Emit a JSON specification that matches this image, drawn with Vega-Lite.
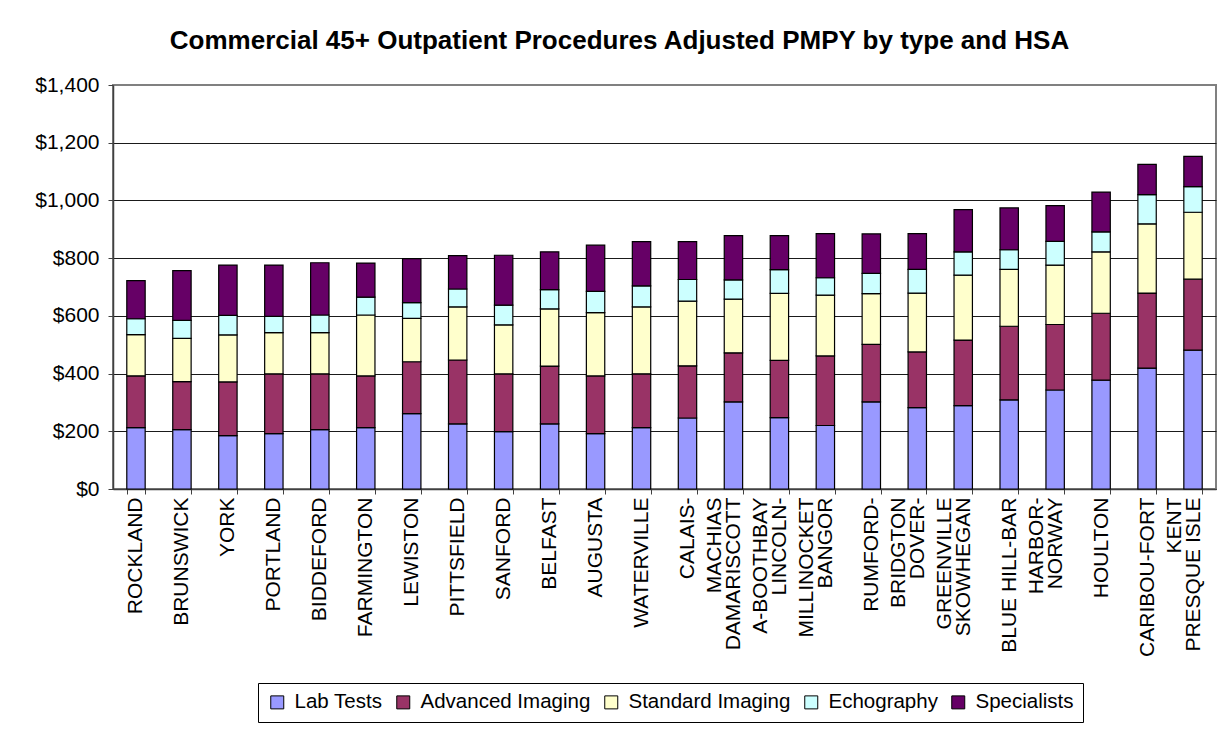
{
  "$schema": "https://vega.github.io/schema/vega-lite/v6.json",
  "autosize": {"type": "none"},
  "width": 1103,
  "height": 404,
  "padding": {"left": 113, "top": 85, "right": 12, "bottom": 240},
  "background": "white",
  "title": {
    "text": "Commercial 45+ Outpatient Procedures Adjusted PMPY by type and HSA",
    "font": "Liberation Sans",
    "fontSize": 26,
    "fontWeight": "bold",
    "color": "black",
    "anchor": "middle",
    "dx": -45,
    "offset": 20
  },
  "data": {
    "values": [
      {"hsa": "ROCKLAND", "Lab Tests": 213, "Advanced Imaging": 179, "Standard Imaging": 143, "Echography": 55, "Specialists": 132},
      {"hsa": "BRUNSWICK", "Lab Tests": 206, "Advanced Imaging": 166, "Standard Imaging": 150, "Echography": 62, "Specialists": 173},
      {"hsa": "YORK", "Lab Tests": 185, "Advanced Imaging": 186, "Standard Imaging": 163, "Echography": 68, "Specialists": 174},
      {"hsa": "PORTLAND", "Lab Tests": 192, "Advanced Imaging": 207, "Standard Imaging": 143, "Echography": 56, "Specialists": 178},
      {"hsa": "BIDDEFORD", "Lab Tests": 206, "Advanced Imaging": 193, "Standard Imaging": 143, "Echography": 61, "Specialists": 181},
      {"hsa": "FARMINGTON", "Lab Tests": 213, "Advanced Imaging": 179, "Standard Imaging": 211, "Echography": 62, "Specialists": 118},
      {"hsa": "LEWISTON", "Lab Tests": 261, "Advanced Imaging": 180, "Standard Imaging": 150, "Echography": 55, "Specialists": 152},
      {"hsa": "PITTSFIELD", "Lab Tests": 226, "Advanced Imaging": 221, "Standard Imaging": 184, "Echography": 62, "Specialists": 116},
      {"hsa": "SANFORD", "Lab Tests": 199, "Advanced Imaging": 200, "Standard Imaging": 170, "Echography": 68, "Specialists": 173},
      {"hsa": "BELFAST", "Lab Tests": 226, "Advanced Imaging": 200, "Standard Imaging": 198, "Echography": 67, "Specialists": 131},
      {"hsa": "AUGUSTA", "Lab Tests": 192, "Advanced Imaging": 200, "Standard Imaging": 219, "Echography": 74, "Specialists": 160},
      {"hsa": "WATERVILLE", "Lab Tests": 213, "Advanced Imaging": 186, "Standard Imaging": 232, "Echography": 73, "Specialists": 153},
      {"hsa": "CALAIS-\nMACHIAS", "Lab Tests": 246, "Advanced Imaging": 181, "Standard Imaging": 224, "Echography": 75, "Specialists": 131},
      {"hsa": "DAMARISCOTT\nA-BOOTHBAY", "Lab Tests": 302, "Advanced Imaging": 170, "Standard Imaging": 186, "Echography": 67, "Specialists": 153},
      {"hsa": "LINCOLN-\nMILLINOCKET", "Lab Tests": 247, "Advanced Imaging": 199, "Standard Imaging": 232, "Echography": 82, "Specialists": 118},
      {"hsa": "BANGOR", "Lab Tests": 220, "Advanced Imaging": 241, "Standard Imaging": 211, "Echography": 60, "Specialists": 153},
      {"hsa": "RUMFORD-\nBRIDGTON", "Lab Tests": 302, "Advanced Imaging": 199, "Standard Imaging": 176, "Echography": 70, "Specialists": 137},
      {"hsa": "DOVER-\nGREENVILLE", "Lab Tests": 282, "Advanced Imaging": 193, "Standard Imaging": 204, "Echography": 82, "Specialists": 124},
      {"hsa": "SKOWHEGAN", "Lab Tests": 289, "Advanced Imaging": 227, "Standard Imaging": 225, "Echography": 81, "Specialists": 146},
      {"hsa": "BLUE HILL-BAR\nHARBOR-", "Lab Tests": 309, "Advanced Imaging": 255, "Standard Imaging": 197, "Echography": 68, "Specialists": 145},
      {"hsa": "NORWAY", "Lab Tests": 343, "Advanced Imaging": 227, "Standard Imaging": 206, "Echography": 82, "Specialists": 124},
      {"hsa": "HOULTON", "Lab Tests": 377, "Advanced Imaging": 232, "Standard Imaging": 213, "Echography": 69, "Specialists": 138},
      {"hsa": "CARIBOU-FORT\nKENT", "Lab Tests": 419, "Advanced Imaging": 260, "Standard Imaging": 240, "Echography": 101, "Specialists": 105},
      {"hsa": "PRESQUE ISLE", "Lab Tests": 481, "Advanced Imaging": 246, "Standard Imaging": 232, "Echography": 89, "Specialists": 105}
    ]
  },
  "transform": [
    {"fold": ["Lab Tests", "Advanced Imaging", "Standard Imaging", "Echography", "Specialists"], "as": ["type", "value"]},
    {"calculate": "indexof(['Lab Tests','Advanced Imaging','Standard Imaging','Echography','Specialists'], datum.type)", "as": "ord"}
  ],
  "mark": {"type": "bar", "stroke": "black", "strokeWidth": 1.2},
  "encoding": {
    "x": {
      "field": "hsa",
      "type": "nominal",
      "sort": null,
      "scale": {"paddingInner": 0.6, "paddingOuter": 0.3},
      "axis": {
        "title": null,
        "labelAngle": -90,
        "labelAlign": "right",
        "labelBaseline": "middle",
        "labelExpr": "split(datum.label, '\\n')",
        "labelLineHeight": 27,
        "labelFont": "Liberation Sans",
        "labelFontSize": 21,
        "labelColor": "black",
        "labelPadding": 3,
        "labelOverlap": false,
        "labelLimit": 0,
        "tickBand": "extent",
        "tickSize": 5,
        "tickColor": "#404040",
        "domainColor": "#404040",
        "domainWidth": 1.5,
        "grid": false
      }
    },
    "y": {
      "field": "value",
      "type": "quantitative",
      "stack": "zero",
      "scale": {"domain": [0, 1400], "nice": false},
      "axis": {
        "title": null,
        "values": [0, 200, 400, 600, 800, 1000, 1200, 1400],
        "format": "$,.0f",
        "labelFont": "Liberation Sans",
        "labelFontSize": 21,
        "labelColor": "black",
        "labelPadding": 9,
        "tickSize": 5,
        "tickColor": "#404040",
        "domainColor": "#404040",
        "domainWidth": 1.5,
        "grid": true,
        "gridColor": {"condition": {"test": "datum.value == 1400", "value": "#808080"}, "value": "#1a1a1a"},
        "gridWidth": 1
      }
    },
    "color": {
      "field": "type",
      "type": "nominal",
      "scale": {
        "domain": ["Lab Tests", "Advanced Imaging", "Standard Imaging", "Echography", "Specialists"],
        "range": ["#9999FF", "#993366", "#FFFFCC", "#CCFFFF", "#660066"]
      },
      "legend": {
        "title": null,
        "orient": "none",
        "legendX": 145,
        "legendY": 598,
        "direction": "horizontal",
        "strokeColor": "black",
        "padding": 9,
        "symbolType": "square",
        "symbolSize": 169,
        "symbolStrokeColor": "black",
        "symbolStrokeWidth": 1,
        "symbolOpacity": 1,
        "labelFont": "Liberation Sans",
        "labelFontSize": 20.5,
        "labelColor": "black",
        "labelOffset": 7,
        "columnPadding": 10,
        "labelLimit": 0
      }
    },
    "order": {"field": "ord", "type": "quantitative"}
  },
  "config": {
    "view": {"stroke": "#808080", "strokeWidth": 2},
    "axis": {"labelFont": "Liberation Sans"}
  }
}
